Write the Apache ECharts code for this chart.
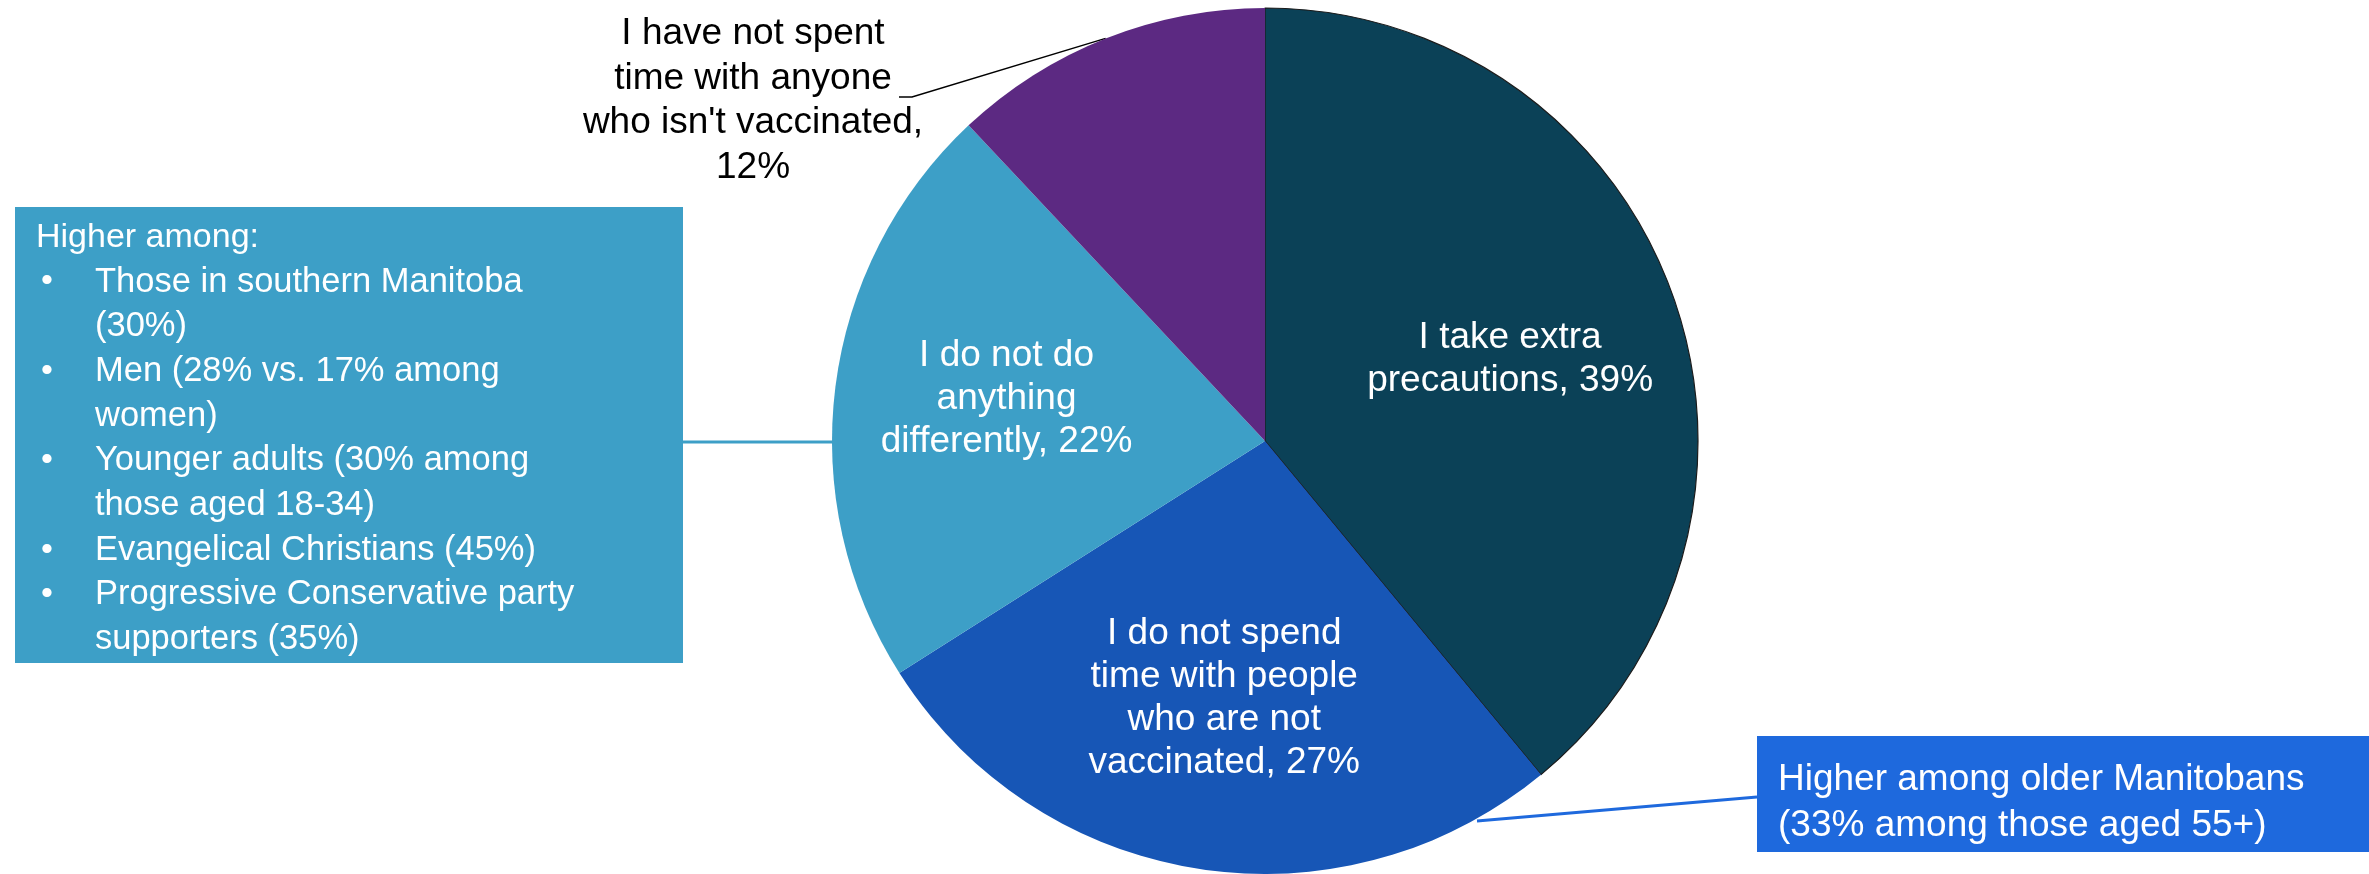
<!DOCTYPE html>
<html>
<head>
<meta charset="utf-8">
<script src="https://cdn.jsdelivr.net/npm/echarts@6/dist/echarts.min.js"></script>
<style>
  html, body { margin: 0; padding: 0; background: #ffffff; }
  #chart { width: 2369px; height: 874px; }
</style>
</head>
<body>
<div id="chart"></div>
<script>
// ---- Data ----
const categories = [
  'I take extra precautions',
  'I do not spend time with people who are not vaccinated',
  'I do not do anything differently',
  "I have not spent time with anyone who isn't vaccinated"
];
const values = [39, 27, 22, 12];
const labelTexts = [
  'I take extra\nprecautions, 39%',
  'I do not spend\ntime with people\nwho are not\nvaccinated, 27%',
  'I do not do\nanything\ndifferently, 22%',
  "I have not spent\ntime with anyone\nwho isn't vaccinated,\n12%"
];
const leftNoteTitle = 'Higher among:';
const leftNoteLines = [
  ['•', 'Those in southern Manitoba'],
  ['', '(30%)'],
  ['•', 'Men (28% vs. 17% among'],
  ['', 'women)'],
  ['•', 'Younger adults (30% among'],
  ['', 'those aged 18-34)'],
  ['•', 'Evangelical Christians (45%)'],
  ['•', 'Progressive Conservative party'],
  ['', 'supporters (35%)']
];
const rightNoteLines = ['Higher among older Manitobans', '(33% among those aged 55+)'];

// ---- Styles ----
const FONT = '"Liberation Sans", Arial, sans-serif';
const colors = ['#0B4157', '#1756B6', '#3D9FC7', '#5C2982'];
const labelNudgeY = [7, 0, -10, 0];
const CX = 1265, CY = 441, R = 433;

const chart = echarts.init(document.getElementById('chart'), null, { renderer: 'canvas' });

const pieData = categories.map((c, i) => ({
  name: c,
  value: values[i],
  itemStyle: i === 0
    ? { color: colors[i], borderColor: '#1b1b1b', borderWidth: 1.2 }
    : { color: colors[i], borderWidth: 0 }
}));

const labelData = categories.map((c, i) => ({
  name: c,
  value: values[i],
  label: i === 3
    ? { show: true, position: 'outside', color: '#000000', lineHeight: 44.5 }
    : { show: true, position: 'inside', color: '#ffffff' },
  labelLine: { show: i === 3 }
}));

const leftRich = [leftNoteTitle].concat(leftNoteLines.map(l =>
  '{b|' + (l[0] || ' ') + '}{t|' + l[1] + '}'
));

const option = {
  animation: false,
  backgroundColor: '#ffffff',
  series: [
    {
      type: 'pie',
      center: [CX, CY],
      radius: [0, R],
      startAngle: 90,
      clockwise: true,
      label: { show: false },
      labelLine: { show: false },
      emphasis: { disabled: true },
      silent: true,
      data: pieData
    },
    {
      type: 'pie',
      center: [CX, CY],
      radius: [Math.round(R * 0.19), R],
      startAngle: 90,
      clockwise: true,
      silent: true,
      emphasis: { disabled: true },
      avoidLabelOverlap: false,
      itemStyle: { color: 'rgba(0,0,0,0)', borderWidth: 0 },
      label: {
        fontFamily: FONT,
        fontSize: 37,
        lineHeight: 43,
        align: 'center',
        formatter: p => labelTexts[p.dataIndex]
      },
      labelLine: {
        show: false,
        length: 10,
        length2: 10,
        lineStyle: { color: '#000000', width: 1.5 }
      },
      labelLayout: function (params) {
        if (params.dataIndex !== 3) return { dy: labelNudgeY[params.dataIndex] };
        const p0 = params.labelLinePoints ? params.labelLinePoints[0] : [1106, 38];
        return {
          x: 753,
          y: 101,
          align: 'center',
          verticalAlign: 'middle',
          labelLinePoints: [p0, [912, 97], [899, 97]]
        };
      },
      data: labelData
    }
  ],
  graphic: [
    // left note connector
    {
      type: 'line',
      shape: { x1: 683, y1: 442, x2: 834, y2: 442 },
      style: { stroke: '#3D9FC7', lineWidth: 3 },
      z: 10
    },
    {
      type: 'rect',
      shape: { x: 15, y: 207, width: 668, height: 456 },
      style: { fill: '#3D9FC7' },
      z: 10
    },
    {
      type: 'text',
      x: 36,
      y: 215,
      style: {
        text: leftRich.join('\n'),
        fill: '#ffffff',
        font: '34px ' + FONT,
        lineHeight: 44.7,
        rich: {
          b: { fontSize: 34, fontFamily: FONT, fill: '#ffffff', width: 54, padding: [0, 0, 0, 5], lineHeight: 44.7 },
          t: { fontSize: 34.5, fontFamily: FONT, fill: '#ffffff', lineHeight: 44.7 }
        }
      },
      z: 11
    },
    // right note connector
    {
      type: 'line',
      shape: { x1: 1757, y1: 797, x2: 1477, y2: 821 },
      style: { stroke: '#1E69DD', lineWidth: 3 },
      z: 10
    },
    {
      type: 'rect',
      shape: { x: 1757, y: 736, width: 612, height: 116 },
      style: { fill: '#1E69DD' },
      z: 10
    },
    {
      type: 'text',
      x: 1778,
      y: 757,
      style: {
        text: rightNoteLines.join('\n'),
        fill: '#ffffff',
        font: '37px ' + FONT,
        lineHeight: 46
      },
      z: 11
    }
  ]
};

chart.setOption(option);
</script>
</body>
</html>
